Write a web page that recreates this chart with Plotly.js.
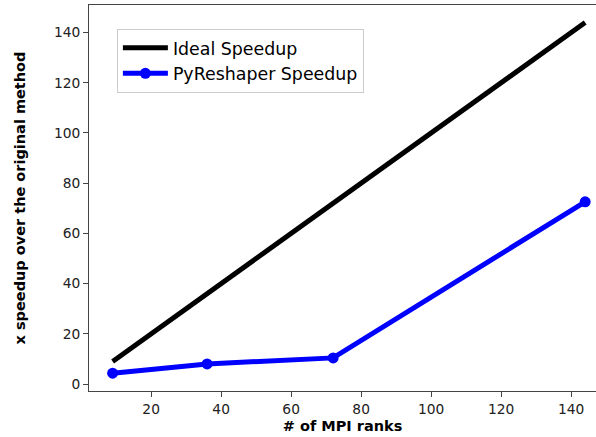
<!DOCTYPE html>
<html>
<head>
<meta charset="utf-8">
<script src="https://cdn.plot.ly/plotly-3.0.1.min.js"></script>
<style>html,body{margin:0;padding:0;background:#fff;}#chart{width:596px;height:437px;}</style>
</head>
<body>
<div id="chart"></div>
<script>
const ranks = [9, 36, 72, 144];
const idealSpeedup = [9, 36, 72, 144];
const pyreshaperSpeedup = [4.3, 8.0, 10.4, 72.6];
const xTicks = [20, 40, 60, 80, 100, 120, 140];
const yTicks = [0, 20, 40, 60, 80, 100, 120, 140];

const traces = [
  {x: ranks, y: idealSpeedup, type: 'scatter', mode: 'lines', name: 'Ideal Speedup',
   line: {color: '#000000', width: 5}},
  {x: ranks, y: pyreshaperSpeedup, type: 'scatter', mode: 'lines+markers', name: 'PyReshaper Speedup',
   line: {color: '#0000ff', width: 5}, marker: {color: '#0000ff', size: 11}}
];

const axisFont = {family: 'DejaVu Sans', size: 13.8, color: '#222'};
const titleFont = {family: 'DejaVu Sans', size: 14.5, color: '#000'};
const layout = {
  width: 596, height: 437,
  margin: {l: 89, r: 0, t: 5, b: 46},
  paper_bgcolor: '#fff', plot_bgcolor: '#fff',
  showlegend: true,
  legend: {x: 0.055, y: 0.938, xanchor: 'left', yanchor: 'top',
    bgcolor: 'rgba(255,255,255,0.8)', bordercolor: '#cccccc', borderwidth: 1,
    itemwidth: 45,
    font: {family: 'DejaVu Sans', size: 17.4, color: '#000'}, tracegroupgap: 0},
  xaxis: {range: [2.25, 147.1], tickvals: xTicks, showgrid: false, zeroline: false,
    showline: true, linecolor: '#444', linewidth: 1, mirror: true,
    ticks: 'outside', ticklen: 5, tickcolor: '#444', tickfont: axisFont,
    title: {text: '<b># of MPI ranks</b>', font: titleFont, standoff: 5}},
  yaxis: {range: [-2.79, 150.99], tickvals: yTicks, showgrid: false, zeroline: false,
    showline: true, linecolor: '#444', linewidth: 1, mirror: false,
    ticks: 'outside', ticklen: 5, tickcolor: '#444', tickfont: axisFont,
    title: {text: '<b>x speedup over the original method</b>', font: titleFont, standoff: 24}}
};
Plotly.newPlot('chart', traces, layout, {displayModeBar: false, staticPlot: true});
</script>
</body>
</html>
